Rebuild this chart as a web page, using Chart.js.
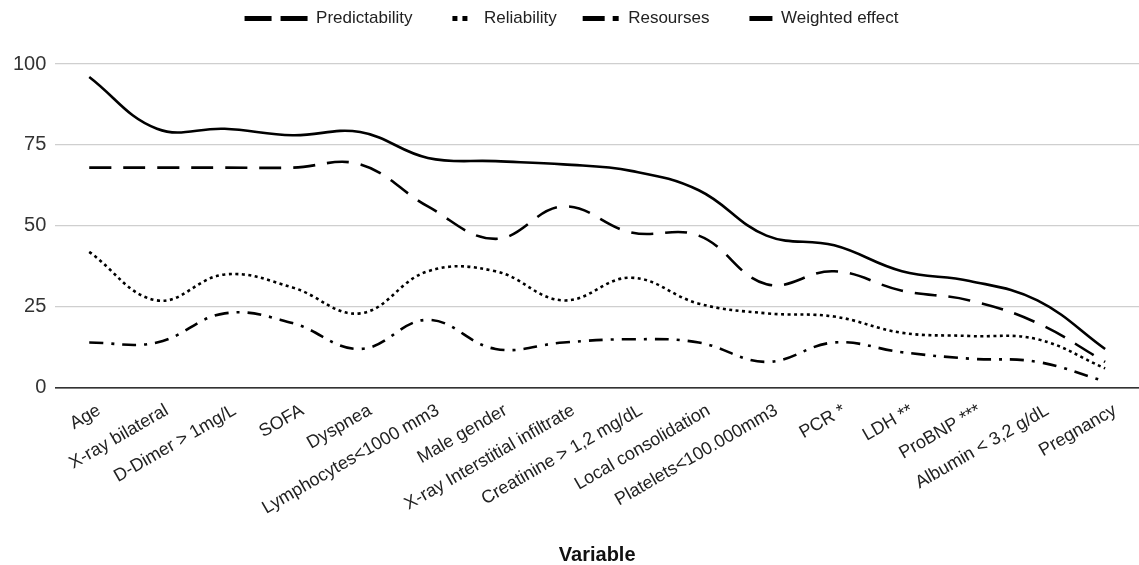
<!DOCTYPE html>
<html>
<head>
<meta charset="utf-8">
<script src="https://cdn.jsdelivr.net/npm/chart.js@4"></script>
<style>
  html, body { margin: 0; padding: 0; background: #fff; }
  #wrap { width: 1139px; height: 565px; position: relative; }
</style>
</head>
<body>
<div id="wrap"><canvas id="chart"></canvas></div>
<script>
var variables = ['Age', 'X-ray bilateral', 'D-Dimer > 1mg/L', 'SOFA', 'Dyspnea', 'Lymphocytes<1000 mm3',
  'Male gender', 'X-ray Interstitial infiltrate', 'Creatinine > 1,2 mg/dL', 'Local consolidation',
  'Platelets<100.000mm3', 'PCR *', 'LDH **', 'ProBNP ***', 'Albumin < 3,2 g/dL', 'Pregnancy'];
var predictability = [68, 68, 68, 68, 69, 56, 46, 56, 48, 47, 32, 36, 30, 27, 20, 8];
var reliability = [42, 27, 35, 31, 23, 36, 36, 27, 34, 26, 23, 22, 17, 16, 15, 6];
var resourses = [14, 14, 23, 20, 12, 21, 12, 14, 15, 14, 8, 14, 11, 9, 8, 2];
var weightedEffect = [96, 80, 80, 78, 79, 71, 70, 69, 67, 61, 47, 44, 36, 33, 27, 12];
var yTicks = [0, 25, 50, 75, 100];

var FONT = "'Liberation Sans', Arial, sans-serif";

// legend icons: leading zero-length dash + gap pushes the short icons against the text
var legendDash = {
  'Predictability': [27, 9, 27, 100],
  'Reliability': [0, 40, 5, 5, 5, 100],
  'Resourses': [0, 26, 22, 8, 6, 100],
  'Weighted effect': [0, 40, 23, 100]
};

function line(label, data, dash) {
  return { label: label, data: data, borderColor: '#000', backgroundColor: '#000', borderWidth: 2.6,
    borderDash: dash, pointRadius: 0, tension: 0.4, fill: false };
}

var legendGap = {
  id: 'legendGap',
  beforeInit: function(chart) {
    var fit = chart.legend.fit;
    chart.legend.fit = function() { fit.call(chart.legend); this.height += 27; };
  }
};

new Chart(document.getElementById('chart'), {
  type: 'line',
  data: {
    labels: variables,
    datasets: [
      line('Predictability', predictability, [22, 12]),
      line('Reliability', reliability, [3, 3.5]),
      line('Resourses', resourses, [14, 8, 3, 8]),
      line('Weighted effect', weightedEffect, [])
    ]
  },
  options: {
    responsive: true, maintainAspectRatio: false, animation: false,
    layout: { padding: { left: 4, right: 0, top: 10, bottom: -2 } },
    plugins: {
      legend: {
        position: 'top',
        labels: {
          usePointStyle: true, pointStyle: 'line', pointStyleWidth: 63, padding: 0,
          color: '#222', font: { family: FONT, size: 17 },
          generateLabels: function(chart) {
            var items = Chart.defaults.plugins.legend.labels.generateLabels(chart);
            items.forEach(function(it) {
              it.lineWidth = 5; it.lineDash = legendDash[it.text]; it.lineDashOffset = 0;
              it.pointStyle = 'line'; it.strokeStyle = '#000'; it.lineCap = 'butt';
            });
            return items;
          }
        }
      },
      tooltip: { enabled: false }
    },
    scales: {
      x: {
        offset: true,
        grid: { display: false },
        border: { color: '#333', width: 1.5 },
        ticks: { autoSkip: false, minRotation: 30, maxRotation: 30, padding: 4, labelOffset: 10,
          color: '#222', font: { family: FONT, size: 18 } },
        title: { display: true, text: 'Variable', color: '#111', font: { family: FONT, size: 20, weight: 'bold' }, padding: { top: 20, bottom: 0 } }
      },
      y: {
        min: 0, max: 100,
        afterBuildTicks: function(scale) { scale.ticks = yTicks.map(function(v) { return { value: v }; }); },
        border: { display: false },
        grid: { color: function(c) { return c.tick && c.tick.value === 0 ? '#333' : '#cfcfcf'; }, lineWidth: 1.2, drawTicks: false },
        ticks: { color: '#333', padding: 9, font: { family: FONT, size: 20 } }
      }
    }
  },
  plugins: [legendGap]
});
</script>
</body>
</html>
